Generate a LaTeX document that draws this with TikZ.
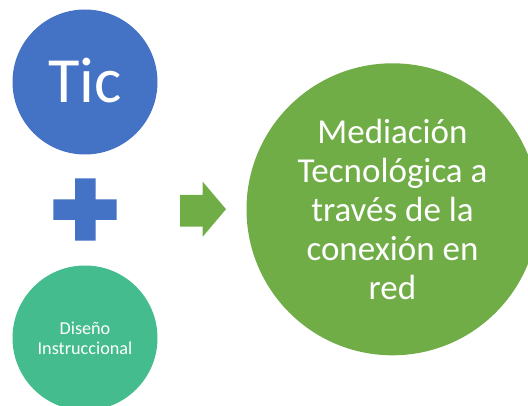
\documentclass[tikz,border=0pt]{standalone}
\usepackage{fontspec}
\setmainfont{Carlito}
\definecolor{ticblue}{HTML}{4472C4}
\definecolor{teal}{HTML}{44BC8E}
\definecolor{grn}{HTML}{70AD47}
\begin{document}
\begin{tikzpicture}[x=1pt,y=-1pt,
  disc/.style={circle,inner sep=0pt,outer sep=0pt,text=white,align=center,draw=none},
]
\useasboundingbox (0,0) rectangle (528,406);
\clip (0,0) rectangle (528,406);
\node[disc,fill=ticblue,minimum size=145pt,font=\fontsize{64.5}{70}\selectfont,text depth=0pt] (tic) at (85,82) {\raisebox{3pt}{Tic}};
\node[disc,fill=teal,minimum size=145pt,font=\fontsize{18.2}{20}\selectfont] (dis) at (85,338) {Diseño\\Instruccional};
\node[disc,fill=grn,minimum size=292pt,font=\fontsize{35}{39.1}\selectfont] (med) at (392.5,209.3)
  {Mediación\\Tecnológica a\\través de la\\conexión en\\red};
% plus sign
\fill[ticblue] (75,178.3) -- (95.7,178.3) -- (95.7,199.3) -- (116.7,199.3) -- (116.7,220)
  -- (95.7,220) -- (95.7,240.7) -- (75,240.7) -- (75,220) -- (53.3,220) -- (53.3,199.3)
  -- (75,199.3) -- cycle;
% arrow
\fill[grn] (180,195) -- (202.7,195) -- (202.7,181.7) -- (226,209.2) -- (202.7,236.7)
  -- (202.7,226.7) -- (180,226.7) -- cycle;
\end{tikzpicture}
\end{document}
